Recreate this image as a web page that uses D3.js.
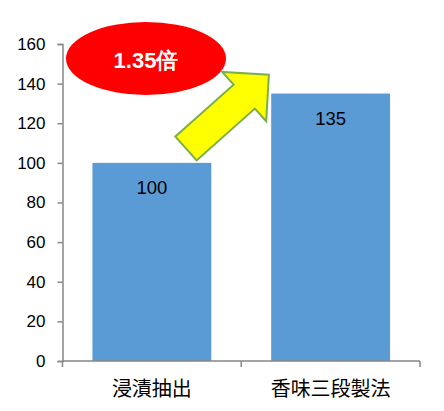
<!DOCTYPE html>
<html>
<head>
<meta charset="utf-8">
<script src="https://cdn.jsdelivr.net/npm/d3@7"></script>
<style>
  body { margin: 0; background: #fff; }
  svg { display: block; }
</style>
</head>
<body>
<svg id="chart" width="444" height="411"></svg>
<script>
  const categories = ["浸漬抽出", "香味三段製法"];
  const values = [100, 135];
  const yTicks = [0, 20, 40, 60, 80, 100, 120, 140, 160];
  const ratioLabel = "1.35倍";

  const BAR_COLOR = "#5B9BD5";
  const AXIS_COLOR = "#868686";
  const NUM_FONT = "'Liberation Sans', Arial, sans-serif";
  const CJK_FONT = "'Noto Sans CJK JP', sans-serif";

  const svg = d3.select("#chart");

  const plotLeft = 62.5, plotRight = 420, plotTop = 44, plotBottom = 361;

  const x = d3.scaleBand()
    .domain(categories)
    .range([plotLeft, plotRight])
    .paddingInner(0.335)
    .paddingOuter(0.1675);

  const y = d3.scaleLinear()
    .domain([0, 160])
    .range([plotBottom, plotTop]);

  // y axis
  const yAxis = svg.append("g")
    .attr("transform", `translate(${plotLeft},0)`)
    .call(d3.axisLeft(y).tickValues(yTicks).tickSize(5).tickPadding(12));
  yAxis.select(".domain").attr("stroke", AXIS_COLOR).attr("stroke-width", 1.5);
  yAxis.selectAll(".tick line").attr("stroke", AXIS_COLOR).attr("stroke-width", 1.5);
  yAxis.selectAll(".tick text")
    .attr("fill", "#000")
    .style("font-family", NUM_FONT)
    .style("font-size", "17px");

  // bars
  svg.selectAll("rect.bar")
    .data(values)
    .join("rect")
    .attr("class", "bar")
    .attr("x", (d, i) => x(categories[i]))
    .attr("y", d => y(d))
    .attr("width", x.bandwidth())
    .attr("height", d => y(0) - y(d))
    .attr("fill", BAR_COLOR);

  // value labels
  svg.selectAll("text.val")
    .data(values)
    .join("text")
    .attr("class", "val")
    .attr("x", (d, i) => x(categories[i]) + x.bandwidth() / 2)
    .attr("y", d => y(d) + 25)
    .attr("text-anchor", "middle")
    .attr("dominant-baseline", "central")
    .style("font-family", NUM_FONT)
    .style("font-size", "18.5px")
    .attr("fill", "#000")
    .text(d => d);

  // x axis: line with ticks at band boundaries
  const step = x.step();
  const xEdges = [plotLeft, plotLeft + step, plotRight];
  svg.append("line")
    .attr("x1", plotLeft).attr("x2", plotRight)
    .attr("y1", plotBottom).attr("y2", plotBottom)
    .attr("stroke", AXIS_COLOR).attr("stroke-width", 1.5);
  svg.selectAll("line.xtick")
    .data(xEdges)
    .join("line")
    .attr("class", "xtick")
    .attr("x1", d => d).attr("x2", d => d)
    .attr("y1", plotBottom).attr("y2", plotBottom + 6)
    .attr("stroke", AXIS_COLOR).attr("stroke-width", 1.5);

  svg.selectAll("text.cat")
    .data(categories)
    .join("text")
    .attr("class", "cat")
    .attr("x", d => x(d) + x.bandwidth() / 2)
    .attr("y", plotBottom + 26)
    .attr("text-anchor", "middle")
    .attr("dominant-baseline", "central")
    .style("font-family", CJK_FONT)
    .style("font-size", "20px")
    .attr("fill", "#000")
    .text(d => d);

  // annotation: red ellipse with ratio
  svg.append("ellipse")
    .attr("cx", 146).attr("cy", 58.5)
    .attr("rx", 80).attr("ry", 36.5)
    .attr("fill", "#FF0000");
  svg.append("text")
    .attr("x", 146).attr("y", 60)
    .attr("text-anchor", "middle")
    .attr("dominant-baseline", "central")
    .style("font-family", NUM_FONT)
    .style("font-size", "22px")
    .style("font-weight", "bold")
    .attr("fill", "#fff")
    .text(ratioLabel);

  // annotation: yellow arrow (local frame points right, then rotated)
  const shaftLen = 78, shaftHalf = 16, headLen = 33, headHalf = 33;
  const arrowPts = [
    [0, -shaftHalf], [shaftLen, -shaftHalf], [shaftLen, -headHalf],
    [shaftLen + headLen, 0],
    [shaftLen, headHalf], [shaftLen, shaftHalf], [0, shaftHalf]
  ];
  svg.append("polygon")
    .attr("points", arrowPts.map(p => p.join(",")).join(" "))
    .attr("transform", "translate(186,148.5) rotate(-41.7)")
    .attr("fill", "#FFFF00")
    .attr("stroke", "#7CAF4A")
    .attr("stroke-width", 2)
    .attr("stroke-linejoin", "miter");
</script>
</body>
</html>
